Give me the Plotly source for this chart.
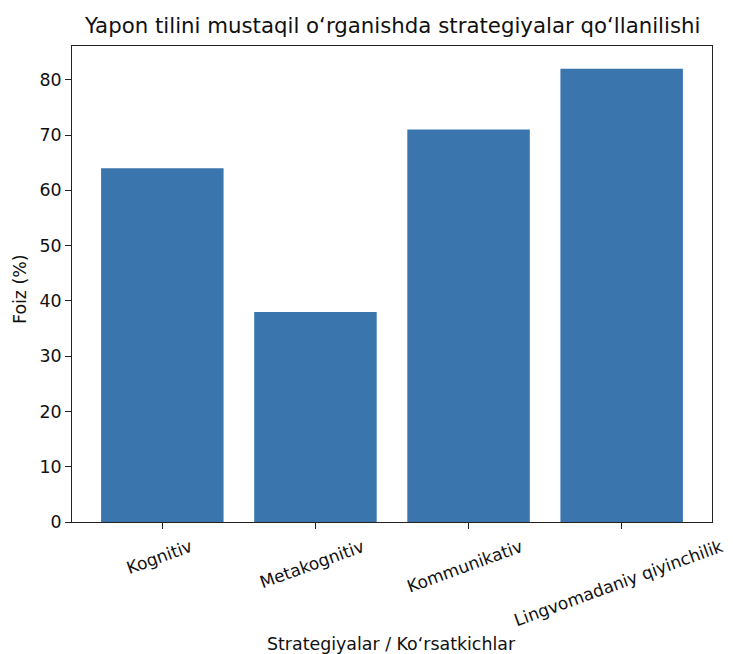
import plotly.graph_objects as go

categories = ["Kognitiv", "Metakognitiv", "Kommunikativ", "Lingvomadaniy qiyinchilik"]
values = [64, 38, 71, 82]
y_ticks = [0, 10, 20, 30, 40, 50, 60, 70, 80]

W, H = 733, 654
OFF = 8  # page body margin
L, R, T, B = 72 - OFF, W - (712 - OFF), 46 - OFF, H - (522 - OFF)
plot_w = W - L - R
plot_h = H - T - B

def px_x(sx):
    return (sx - OFF - L) / plot_w

def px_y(sy):
    return 1 - (sy - OFF - T) / plot_h

fig = go.Figure(go.Bar(
    x=list(range(len(categories))), y=values, width=0.8,
    marker=dict(color="#3a75ae", line=dict(width=0)),
))

font = "DejaVu Sans, sans-serif"
col = "#111"
fs = 17.4
fig.update_layout(
    width=W, height=H,
    margin=dict(l=L, r=R, t=T, b=B),
    paper_bgcolor="white", plot_bgcolor="white",
    font=dict(family=font, size=fs, color=col),
    showlegend=False,
)
fig.update_xaxes(
    range=[-0.59, 3.59], tickmode="array", tickvals=list(range(len(categories))),
    showticklabels=False, ticks="outside", ticklen=6, tickcolor="#222",
    showline=True, linecolor="#222", linewidth=1, mirror=True, showgrid=False,
    zeroline=False,
)
fig.update_yaxes(
    range=[0, 86.1], tickmode="array", tickvals=y_ticks, ticks="outside", ticklen=6,
    tickcolor="#222", showline=True, linecolor="#222", linewidth=1, mirror=True,
    showgrid=False, zeroline=False, tickfont=dict(size=fs, family=font, color=col),
)
# title
fig.add_annotation(
    text="Yapon tilini mustaqil o\u2018rganishda strategiyalar qo\u2018llanilishi",
    xref="paper", yref="paper", x=px_x(392), y=px_y(26), yanchor="middle",
    showarrow=False, font=dict(size=21.3, family=font, color=col),
)
# rotated category labels
for i, c in enumerate(categories):
    fig.add_annotation(
        text=c, xref="x", yref="paper", x=i - 0.02, y=px_y(533), yanchor="top",
        xanchor="center", textangle=-20, showarrow=False,
        font=dict(size=17.0, family=font, color=col),
    )
fig.add_annotation(
    text="Strategiyalar / Ko\u2018rsatkichlar", xref="paper", yref="paper",
    x=px_x(391), y=px_y(644), yanchor="middle", showarrow=False,
    font=dict(size=fs, family=font, color=col),
)
fig.add_annotation(
    text="Foiz (%)", xref="paper", yref="paper", x=px_x(20), y=px_y(289),
    xanchor="center", yanchor="middle", textangle=-90, showarrow=False,
    font=dict(size=fs, family=font, color=col),
)
fig.write_html("out.html")
